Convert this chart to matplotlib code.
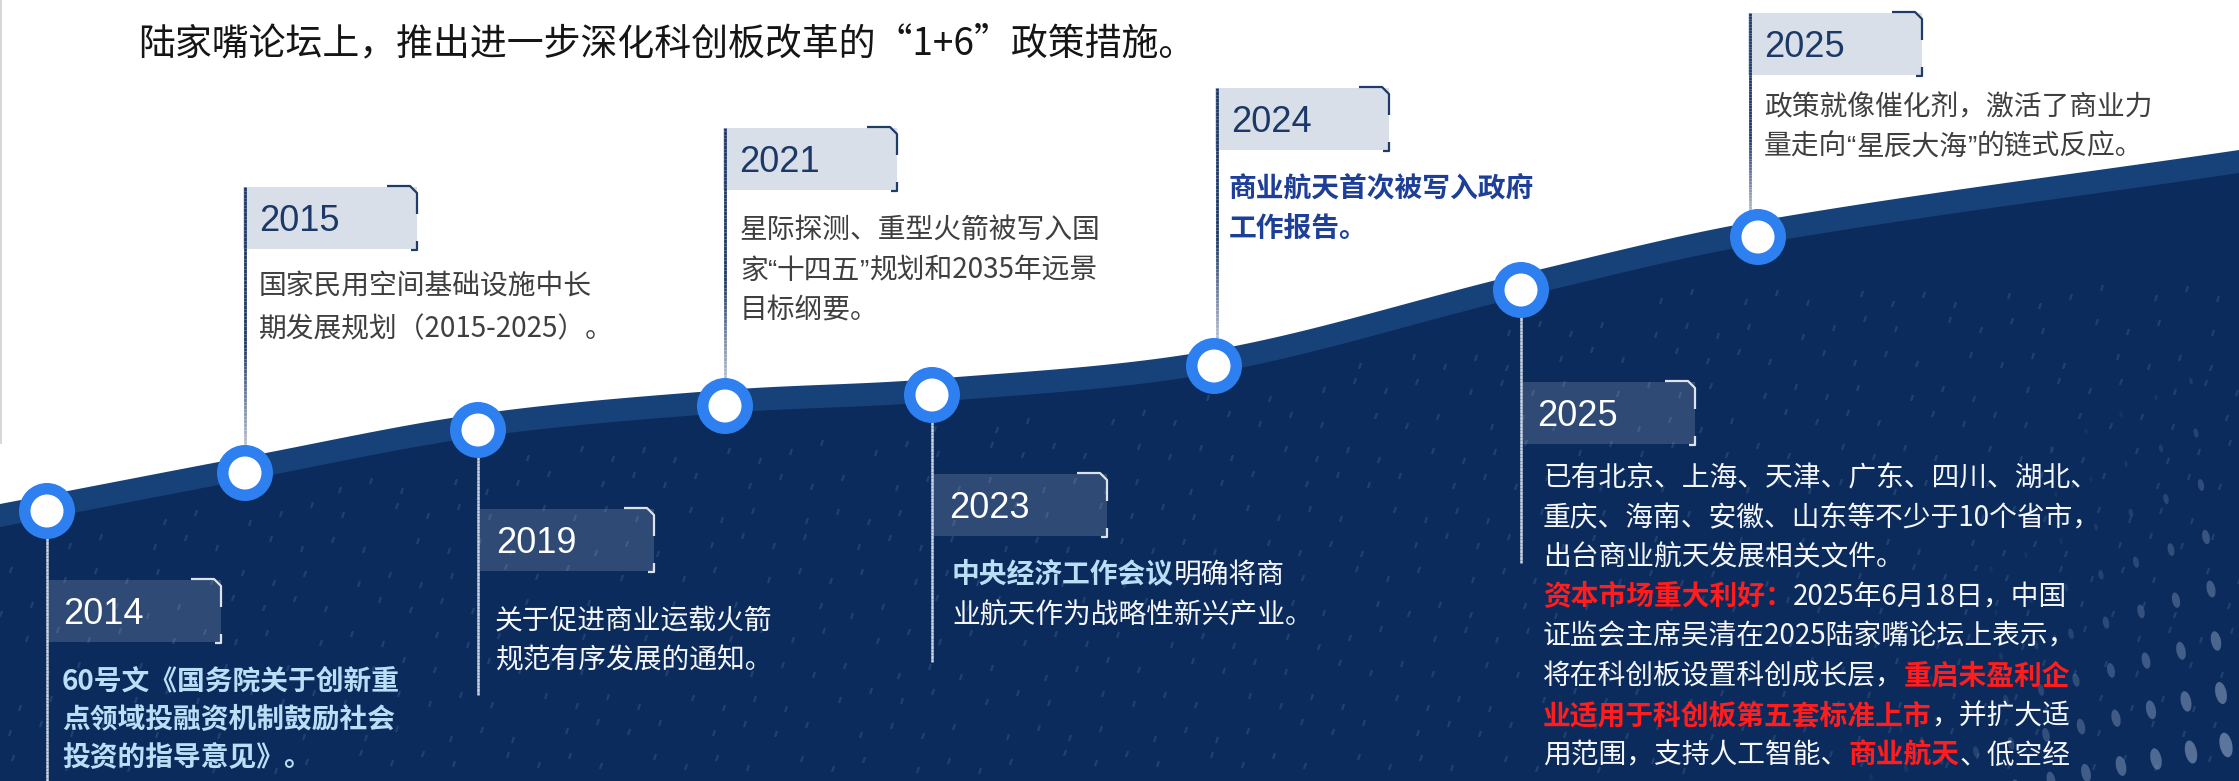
import numpy as np
import matplotlib
matplotlib.use("Agg")
import matplotlib.pyplot as plt
from matplotlib.patches import Rectangle, Circle, Ellipse
from matplotlib.collections import LineCollection
from matplotlib.colors import to_rgba

plt.rcParams['font.family'] = ['Noto Sans CJK SC', 'DejaVu Sans']

# ---------------- data ----------------
title = "陆家嘴论坛上，推出进一步深化科创板改革的“1+6”政策措施。"
years = ["2014", "2015", "2019", "2021", "2023", "2024", "2025", "2025"]
positions = ["below", "above", "below", "above", "below", "above", "below", "above"]

desc_2014 = [[("60号文《国务院关于创新重", "hl")],
             [("点领域投融资机制鼓励社会", "hl")],
             [("投资的指导意见》。", "hl")]]
desc_2015 = [[("国家民用空间基础设施中长", "plain")],
             [("期发展规划（2015-2025）。", "plain")]]
desc_2019 = [[("关于促进商业运载火箭", "plain")],
             [("规范有序发展的通知。", "plain")]]
desc_2021 = [[("星际探测、重型火箭被写入国", "plain")],
             [("家“十四五”规划和2035年远景", "plain")],
             [("目标纲要。", "plain")]]
desc_2023 = [[("中央经济工作会议", "hl"), ("明确将商", "plain")],
             [("业航天作为战略性新兴产业。", "plain")]]
desc_2024 = [[("商业航天首次被写入政府", "blue")],
             [("工作报告。", "blue")]]
desc_2025a = [[("已有北京、上海、天津、广东、四川、湖北、", "plain")],
              [("重庆、海南、安徽、山东等不少于10个省市，", "plain")],
              [("出台商业航天发展相关文件。", "plain")],
              [("资本市场重大利好：", "red"), ("2025年6月18日，中国", "plain")],
              [("证监会主席吴清在2025陆家嘴论坛上表示，", "plain")],
              [("将在科创板设置科创成长层，", "plain"), ("重启未盈利企", "red")],
              [("业适用于科创板第五套标准上市", "red"), ("，并扩大适", "plain")],
              [("用范围，支持人工智能、", "plain"), ("商业航天", "red"), ("、低空经", "plain")]]
desc_2025b = [[("政策就像催化剂，激活了商业力", "plain")],
              [("量走向“星辰大海”的链式反应。", "plain")]]
descriptions = [desc_2014, desc_2015, desc_2019, desc_2021,
                desc_2023, desc_2024, desc_2025a, desc_2025b]

# ---------------- layout (pixel units, y downward) ----------------
W, H = 2239, 781
node_x = [47, 245, 478, 725, 932, 1214, 1521, 1758]
node_y = [511, 473, 430, 406, 395, 366, 290, 237]
edge_x = [0, 2239]
edge_y = [520, 166]
box_x = [47, 243, 480, 723, 933, 1215, 1521, 1748]
box_y = [580, 187, 509, 128, 474, 88, 382, 13]
box_w, box_h = 174, 62
desc_x = [62, 259, 495, 740, 952, 1229, 1543, 1764]
desc_y0 = [679, 284, 618, 228, 572, 186, 476, 105]
desc_dy = [38, 43, 40, 40, 41, 40, 39.6, 39]
below_end = [781, None, 695, None, 662, None, 563, None]

C_BAND = '#174279'
C_DARK = '#0b2b5c'
C_RING = '#2e7ff0'
C_NAVY = '#1c3867'
C_GRAY = '#3f3f3f'
C_HL = '#b9def6'
C_RED = '#ff1d1d'
C_BLUE = '#1d3f98'
QUOTES = "“”‘’"

fig = plt.figure(figsize=(W / 100, H / 100), dpi=100)
fig.patch.set_facecolor('white')
ax = fig.add_axes([0, 0, 1, 1])
ax.set_xlim(0, W)
ax.set_ylim(H, 0)
ax.axis('off')
renderer = fig.canvas.get_renderer()


# ---------------- curve (cubic hermite through nodes) ----------------
def hermite(xp, yp, xs):
    xp = np.asarray(xp, float); yp = np.asarray(yp, float)
    n = len(xp)
    m = np.zeros(n)
    for i in range(n):
        if i == 0:
            m[i] = (yp[1] - yp[0]) / (xp[1] - xp[0])
        elif i == n - 1:
            m[i] = (yp[-1] - yp[-2]) / (xp[-1] - xp[-2])
        else:
            m[i] = (yp[i + 1] - yp[i - 1]) / (xp[i + 1] - xp[i - 1])
    out = np.empty_like(xs)
    for k, x in enumerate(xs):
        i = np.clip(np.searchsorted(xp, x) - 1, 0, n - 2)
        h = xp[i + 1] - xp[i]
        t = (x - xp[i]) / h
        h00 = 2 * t**3 - 3 * t**2 + 1
        h10 = t**3 - 2 * t**2 + t
        h01 = -2 * t**3 + 3 * t**2
        h11 = t**3 - t**2
        out[k] = h00 * yp[i] + h10 * h * m[i] + h01 * yp[i + 1] + h11 * h * m[i + 1]
    return out

cx = [edge_x[0]] + node_x + [edge_x[1]]
cy = [edge_y[0]] + node_y + [edge_y[1]]
xs = np.linspace(0, W, 800)
curve = hermite(cx, cy, xs)
band_top = curve - 16
band_bot = curve + 7

ax.fill_between(xs, band_top, H + 5, color=C_BAND, zorder=1, lw=0)
ax.fill_between(xs, band_bot, H + 5, color=C_DARK, zorder=2, lw=0)

# faint texture marks in dark area
segs = []
for i, yy in enumerate(np.arange(300, H + 10, 31)):
    for j, xx in enumerate(np.arange(0, W + 20, 37)):
        jx = ((i * 31 + j * 17) % 23) - 11
        jy = ((i * 13 + j * 29) % 19) - 9
        px, py = xx + jx + (i % 2) * 18, yy + jy
        if py > np.interp(px, xs, band_bot) + 25:
            segs.append([(px, py), (px + 2, py - 6)])
ax.add_collection(LineCollection(segs, colors=[to_rgba('#6a8cc2', 0.22)],
                                 linewidths=1.6, zorder=3))

# decorative dot field bottom right
for k in range(8):
    y0 = 745 - 52 * k
    for m in range(12 - k):
        x = 2226 - 35 * m - 5 * k
        y = y0 + (0.2 + 0.04 * k) * 35 * m
        w = max(3.0, 12.5 - 1.3 * k - 0.8 * m)
        a = max(0.07, 0.55 - 0.06 * k - 0.045 * m)
        if y < H + 10 and y > np.interp(x, xs, band_bot) + 20:
            ax.add_patch(Ellipse((x, y), w, 2 * w, angle=-12, fc='#9fb3d2',
                                 alpha=a, lw=0, zorder=3))


# ---------------- helpers ----------------
def grad_line(x, y0, y1, c0, c1, lw, split=0.5, n=80):
    ys = np.linspace(y0, y1, n + 1)
    s = [[(x, ys[i]), (x, ys[i + 1])] for i in range(n)]
    a0, a1 = np.array(to_rgba(c0)), np.array(to_rgba(c1))
    cols = []
    for i in range(n):
        t = (i + 0.5) / n
        u = 0 if t < split else (t - split) / (1 - split)
        cols.append((1 - u) * a0 + u * a1)
    ax.add_collection(LineCollection(s, colors=cols, linewidths=lw,
                                     capstyle='butt', zorder=5))


def text_width(s, **kw):
    t = ax.text(0, 0, s, **kw)
    w = t.get_window_extent(renderer=renderer).width
    t.remove()
    return w


def advance(s, **kw):
    return text_width(s + "中", **kw) - text_width("中", **kw)


DESC_FS = 20


def style_props(style, side):
    if style == 'plain':
        return dict(color=C_GRAY if side == 'above' else '#f4f6fa', fontweight='normal')
    if style == 'hl':
        return dict(color=C_HL, fontweight='bold')
    if style == 'red':
        return dict(color=C_RED, fontweight='bold')
    if style == 'blue':
        return dict(color=C_BLUE, fontweight='bold')


def split_quotes(s):
    chunks, cur, curq = [], "", None
    for ch in s:
        q = ch in QUOTES
        if curq is None or q == curq:
            cur += ch
        else:
            chunks.append((cur, curq))
            cur = ch
        curq = q
    if cur:
        chunks.append((cur, curq))
    return chunks


def draw_runs(x, yc, runs, side):
    em = DESC_FS * 100 / 72
    yb = yc + 0.38 * em
    for txt, style in runs:
        for chunk, isq in split_quotes(txt):
            kw = dict(fontsize=DESC_FS, **style_props(style, side))
            if isq:
                kw['family'] = ['Liberation Sans', 'Noto Sans CJK SC']
            ax.text(x, yb, chunk, ha='left', va='baseline', zorder=8, **kw)
            x += advance(chunk, **kw)


# ---------------- timeline items ----------------
for i, yr in enumerate(years):
    side = positions[i]
    bx, by = box_x[i], box_y[i]
    lx = bx + 2
    if side == 'above':
        grad_line(lx, by, node_y[i], C_NAVY, '#e3e7ee', 2.0, split=0.55)
        box_fc = '#d8dfe8'
        br_c = '#1f3b6a'
        yr_c = C_NAVY
    else:
        grad_line(node_x[i], node_y[i], below_end[i], '#cdd6e3', '#cdd6e3', 1.8)
        box_fc = to_rgba('#ffffff', 0.15)
        br_c = '#dde3ec'
        yr_c = 'white'
    ax.add_patch(Rectangle((bx, by), box_w, box_h, fc=box_fc, lw=0, zorder=4))
    r = bx + box_w
    ax.plot([r - 30, r - 7, r, r], [by - 1, by - 1, by + 6, by + 27],
            color=br_c, lw=1.6, zorder=6, solid_capstyle='butt')
    ax.plot([r, r, r - 6], [by + box_h - 8, by + box_h + 1, by + box_h + 1],
            color=br_c, lw=1.6, zorder=6, solid_capstyle='butt')
    yfs = 26
    ax.text(bx + 16, by + box_h / 2 + 0.358 * yfs * 100 / 72, yr,
            fontsize=yfs, family='Liberation Sans', color=yr_c,
            ha='left', va='baseline', zorder=7)
    for k, runs in enumerate(descriptions[i]):
        draw_runs(desc_x[i], desc_y0[i] + k * desc_dy[i], runs, side)

# circles
for x, y in zip(node_x, node_y):
    ax.add_patch(Circle((x, y), 28, fc=C_RING, lw=0, zorder=9))
    ax.add_patch(Circle((x, y), 16.5, fc='white', lw=0, zorder=10))

# title (fit width)
tfs = 26
tw = text_width(title, fontsize=tfs)
tfs = tfs * 1059 / tw
ax.text(138, 40 + 0.38 * tfs * 100 / 72, title, fontsize=tfs, color='#151515',
        ha='left', va='baseline', zorder=8)

# left border line
ax.plot([1, 1], [0, 443], color='#cfcfcf', lw=1.2, zorder=8)

fig.savefig('out.png', dpi=100, facecolor='white')
